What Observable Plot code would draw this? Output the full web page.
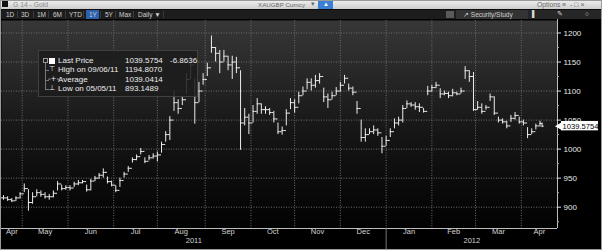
<!DOCTYPE html>
<html><head><meta charset="utf-8">
<script src="https://cdn.jsdelivr.net/npm/d3@7"></script>
<script src="https://cdn.jsdelivr.net/npm/@observablehq/plot@0.6"></script>
<style>
html,body{margin:0;padding:0;background:#000;}
#wrap{position:relative;width:602px;height:250px;overflow:hidden;background:#000;font-family:"Liberation Sans",Arial,sans-serif;}
#bar1{position:absolute;left:0;top:0;width:602px;height:9px;background:linear-gradient(#f0f0f0,#cdcdcd);}
#bar2{position:absolute;left:0;top:9px;width:602px;height:10px;background:#1d1d1d;border-top:1px solid #0c0c0c;box-sizing:border-box;}
.t{position:absolute;white-space:nowrap;line-height:1;}
#chart{position:absolute;left:0;top:19px;}
#legend{position:absolute;left:38px;top:50px;width:160px;height:47px;background:rgba(28,28,28,0.86);border:1px solid #404040;box-sizing:border-box;color:#ececec;font-size:8px;}
#border{position:absolute;left:0;top:0;width:602px;height:250px;box-sizing:border-box;border:1px solid #9a9a9a;pointer-events:none;}
</style></head><body>
<div id="wrap">
  <div id="bar1"></div>
  <div id="bar2"></div>
  <div id="chart"></div>
  <div id="legend"></div>
  <div id="border"></div>
</div>
<script>
// ---------- data ----------
const dates = ["2011-04-19","2011-04-21","2011-04-25","2011-04-27","2011-04-29","2011-05-03","2011-05-05","2011-05-09","2011-05-11","2011-05-13","2011-05-17","2011-05-19","2011-05-23","2011-05-25","2011-05-27","2011-05-31","2011-06-02","2011-06-06","2011-06-08","2011-06-10","2011-06-14","2011-06-16","2011-06-20","2011-06-22","2011-06-24","2011-06-28","2011-06-30","2011-07-04","2011-07-06","2011-07-08","2011-07-12","2011-07-14","2011-07-18","2011-07-20","2011-07-22","2011-07-26","2011-07-28","2011-08-01","2011-08-03","2011-08-05","2011-08-09","2011-08-11","2011-08-15","2011-08-17","2011-08-19","2011-08-23","2011-08-25","2011-08-29","2011-08-31","2011-09-02","2011-09-06","2011-09-08","2011-09-12","2011-09-14","2011-09-16","2011-09-20","2011-09-22","2011-09-26","2011-09-28","2011-09-30","2011-10-04","2011-10-06","2011-10-10","2011-10-12","2011-10-14","2011-10-18","2011-10-20","2011-10-24","2011-10-26","2011-10-28","2011-11-01","2011-11-03","2011-11-07","2011-11-09","2011-11-11","2011-11-15","2011-11-17","2011-11-21","2011-11-23","2011-11-25","2011-11-29","2011-12-01","2011-12-05","2011-12-07","2011-12-09","2011-12-13","2011-12-15","2011-12-19","2011-12-21","2011-12-23","2011-12-27","2011-12-29","2012-01-02","2012-01-04","2012-01-06","2012-01-10","2012-01-12","2012-01-16","2012-01-18","2012-01-20","2012-01-24","2012-01-26","2012-01-30","2012-02-01","2012-02-03","2012-02-07","2012-02-09","2012-02-13","2012-02-15","2012-02-17","2012-02-21","2012-02-23","2012-02-27","2012-02-29","2012-03-02","2012-03-06","2012-03-08","2012-03-12","2012-03-14","2012-03-16","2012-03-20","2012-03-22","2012-03-26","2012-03-28","2012-03-30","2012-04-03","2012-04-05","2012-04-09","2012-04-11","2012-04-13","2012-04-16"];
const highs = [920,918,915,918,925,940,930,925,930,928,925,922,928,944,938,937,937,943,946,946,938,948,953,958,966,952,945,937,950,960,970,985,990,1001,985,989,992,995,1012,1030,1056,1100,1085,1090,1130,1160,1120,1115,1130,1148,1194.807,1175,1170,1170,1160,1160,1158,1135,1070,1060,1075,1087,1078,1073,1070,1065,1045,1038,1068,1087,1085,1098,1107,1121,1121,1127,1130,1105,1095,1098,1106,1115,1127,1112,1107,1082,1050,1035,1035,1040,1035,1020,1022,1035,1052,1055,1075,1083,1080,1080,1078,1070,1108,1110,1115,1104,1100,1098,1103,1098,1105,1142,1135,1132,1082,1078,1075,1095,1090,1055,1052,1048,1058,1063,1055,1050,1037,1035,1043,1048,1045];
const lows = [912,910,908,910,914,925,893.1489,905,918,917,914,912,916,928,928,929,928,934,937,940,926,928,944,948,950,940,935,925,934,950,960,976,980,990,975,980,983,978,993,1012,1015,1065,1060,1075,1095,1120,1043,1080,1110,1125,1165,1150,1130,1150,1135,1120,1130,998,1040,1025,1045,1060,1060,1060,1058,1045,1025,1024,1040,1068,1062,1078,1092,1102,1100,1105,1112,1080,1070,1085,1092,1098,1112,1100,1092,1060,1012,1012,1025,1025,1022,992,1005,1020,1035,1040,1045,1070,1072,1067,1063,1062,1092,1098,1104,1087,1092,1087,1090,1092,1095,1120,1115,1065,1067,1060,1067,1082,1058,1045,1043,1035,1046,1050,1043,1040,1018,1025,1033,1038,1037];
const closes = [916,913,911,916,923,932,908,918,925,922,918,918,924,940,932,934,933,940,942,944,930,945,950,955,960,944,938,929,946,957,967,982,987,996,979,985,988,990,1008,1025,1050,1080,1070,1085,1120,1145,1080,1100,1120,1140,1175,1165,1150,1160,1145,1150,1140,1045,1055,1045,1065,1078,1068,1068,1063,1052,1030,1032,1062,1080,1072,1092,1100,1115,1110,1118,1125,1090,1085,1092,1100,1110,1122,1105,1098,1070,1020,1025,1030,1033,1028,1005,1015,1030,1045,1050,1070,1078,1076,1073,1072,1065,1100,1106,1110,1095,1096,1092,1097,1095,1100,1135,1125,1068,1072,1065,1072,1090,1062,1050,1047,1040,1053,1058,1047,1045,1025,1030,1040,1044,1039.5754];
const yTicks = [900, 950, 1000, 1050, 1100, 1150, 1200];
const yMinorTicks = [875, 925, 975, 1025, 1075, 1125, 1175];
const monthNames = ["Apr","May","Jun","Jul","Aug","Sep","Oct","Nov","Dec","Jan","Feb","Mar","Apr"];
const monthStarts = ["2011-04-01","2011-05-01","2011-06-01","2011-07-01","2011-08-01","2011-09-01","2011-10-01","2011-11-01","2011-12-01","2012-01-01","2012-02-01","2012-03-01","2012-04-01","2012-05-01"];
const yearNames = ["2011","2012"];
const yearStarts = ["2011-01-01","2012-01-01","2013-01-01"];
const lastPrice = 1039.5754;
const legendLabels = ["Last Price","High on 09/06/11","Average","Low on 05/05/11"];
const legendValues = ["1039.5754","1194.8070","1039.0414","893.1489"];
const legendChange = "-6.8636";
const periodButtons = ["1D","3D","1M","6M","YTD","1Y","5Y","Max","Daily \u25BC"];
const activePeriod = "1Y";

// ---------- trading-day index (weekdays since 2 May 2011) ----------
const origin = new Date(Date.UTC(2011, 4, 2));
const isWeekday = d => d.getUTCDay() % 6 !== 0;
function tIndex(s) {
  let d = new Date(s + "T00:00:00Z");
  while (!isWeekday(d)) d = d3.utcDay.offset(d, 1);
  if (d >= origin) return d3.utcDays(origin, d).filter(isWeekday).length;
  return -d3.utcDays(d, origin).filter(isWeekday).length;
}

const X0 = -9.95, X1 = 257.4;
const Y0 = 863.3, Y1 = 1221.5;

const bars = dates.map((d, i) => ({
  i: tIndex(d), h: highs[i], l: lows[i], c: closes[i], o: i ? closes[i - 1] : closes[i]
}));
const bounds = monthStarts.map(tIndex);
const gridX = bounds.filter(b => b > X0 && b < X1);
const months = monthNames.map((m, k) => {
  const a = Math.max(bounds[k], X0), b = Math.min(bounds[k + 1], X1);
  return {label: m, mid: (a + b) / 2};
});
const ybounds = yearStarts.map(tIndex);
const years = yearNames.map((y, k) => ({label: y, mid: (Math.max(ybounds[k], X0) + Math.min(ybounds[k + 1], X1)) / 2}));
const yearSep = ybounds.filter(b => b > X0 && b < X1);

const barColor = "#ececec";
const chart = Plot.plot({
  width: 602, height: 231,
  marginTop: 1, marginBottom: 22, marginLeft: 1, marginRight: 45,
  x: {domain: [X0, X1], axis: null},
  y: {domain: [Y0, Y1], axis: null},
  style: {background: "transparent", color: "#e6e6e6", fontFamily: "'Liberation Sans', Arial, sans-serif", fontSize: "8px"},
  marks: [
    Plot.frame({fill: "url(#bgGrad)", stroke: "none"}),
    Plot.ruleY(yTicks, {stroke: "#6c6c6c", strokeDasharray: "1,1.5"}),
    Plot.ruleX(gridX, {stroke: "#6c6c6c", strokeDasharray: "1,1.5"}),
    Plot.ruleX(bars, {x: "i", y1: "l", y2: "h", stroke: barColor, strokeWidth: 1}),
    Plot.ruleY(bars, {y: "o", x1: d => d.i - 1, x2: "i", stroke: barColor, strokeWidth: 1}),
    Plot.ruleY(bars, {y: "c", x1: "i", x2: d => d.i + 1, stroke: barColor, strokeWidth: 1}),
    // axes lines
    Plot.ruleY([Y0], {stroke: "#bdbdbd"}),
    Plot.ruleX([X1], {stroke: "#bdbdbd", insetTop: -2}),
    Plot.ruleX(yearSep, {stroke: "#777", insetTop: 208, insetBottom: -22}),
    // y ticks and labels
    Plot.ruleY(yTicks, {x1: X1, x2: X1, insetRight: -4, stroke: "#e0e0e0"}),
    Plot.ruleY(yMinorTicks, {x1: X1, x2: X1, insetRight: -2, stroke: "#aaa"}),
    Plot.text(yTicks, {y: d => d, text: d => String(d), frameAnchor: "right", dx: 6, textAnchor: "start", fill: "#e8e8e8", fontSize: 8}),
    // x labels
    Plot.text(months, {x: "mid", text: "label", frameAnchor: "bottom", dy: 5.5, fill: "#d4d4d4", fontSize: 7.5}),
    Plot.text(years, {x: "mid", text: "label", frameAnchor: "bottom", dy: 14, fill: "#d4d4d4", fontSize: 7.5}),
    // last price marker
    Plot.rect([lastPrice], {x1: X1, x2: X1, y1: d => d, y2: d => d, insetLeft: 4, insetRight: -41, insetTop: -4.7, insetBottom: -4.7, fill: "#ffffff"}),
    Plot.dot([lastPrice], {x: X1, y: d => d, symbol: "triangle", r: 3.2, rotate: -90, dx: 2.5, fill: "#ffffff", stroke: "none"}),
    Plot.text([lastPrice], {x: X1, y: d => d, text: d => d.toFixed(4), dx: 5, textAnchor: "start", fill: "#000", fontSize: 7.6})
  ]
});
const svg = d3.select(chart);
const defs = svg.insert("defs", ":first-child");
const gr = defs.append("linearGradient").attr("id", "bgGrad").attr("x1", 0).attr("y1", 0).attr("x2", 0).attr("y2", 1);
gr.append("stop").attr("offset", "0%").attr("stop-color", "#373737");
gr.append("stop").attr("offset", "55%").attr("stop-color", "#151515");
gr.append("stop").attr("offset", "100%").attr("stop-color", "#020202");
document.getElementById("chart").appendChild(chart);

// ---------- legend ----------
const lg = d3.select("#legend");
const rowTop = [5.5, 15, 24.5, 34];
lg.append("div").style("position", "absolute").style("left", "4px").style("top", "7px")
  .style("width", "3px").style("height", "3px").style("border", "1px solid #999");
lg.append("div").style("position", "absolute").style("left", "6px").style("top", "12px")
  .style("width", "0").style("height", "27px").style("border-left", "1px solid #777");
const icons = ["", "\u22A4", "-+-", "\u22A5"];
legendLabels.forEach((lab, k) => {
  if (k === 0) {
    lg.append("div").style("position", "absolute").style("left", "10px").style("top", (rowTop[k] + 1) + "px")
      .style("width", "6px").style("height", "6px").style("background", "#fff");
  } else {
    lg.append("div").style("position", "absolute").style("left", "7px").style("top", (rowTop[k] + 4) + "px")
      .style("width", "3px").style("height", "0").style("border-top", "1px solid #777");
    lg.append("span").attr("class", "t").style("left", k === 2 ? "9px" : "10px").style("top", rowTop[k] + "px")
      .style("font-family", "'DejaVu Sans', sans-serif").style("font-size", "7px").text(icons[k]);
  }
  lg.append("span").attr("class", "t").style("left", "19px").style("top", rowTop[k] + "px").text(lab);
  lg.append("span").attr("class", "t").style("left", "86px").style("top", rowTop[k] + "px").text(legendValues[k]);
});
lg.append("span").attr("class", "t").style("left", "131px").style("top", rowTop[0] + "px").text(legendChange);

// ---------- toolbars ----------
const b1 = d3.select("#bar1");
b1.append("div").style("position", "absolute").style("left", "2px").style("top", "1px").style("width", "6px").style("height", "6px").style("background", "#111");
b1.append("span").attr("class", "t").style("left", "13px").style("top", "1.5px").style("font-size", "6.8px").style("color", "#8c8c8c").text("G 14 - Gold");
b1.append("span").attr("class", "t").style("left", "258px").style("top", "1.5px").style("font-size", "6.2px").style("color", "#6a6a6a").text("XAUGBP Curncy");
b1.append("span").attr("class", "t").style("left", "311px").style("top", "0.5px").style("font-size", "6.5px").style("color", "#6a6a6a").text("\u25BE");
b1.append("div").style("position", "absolute").style("left", "318px").style("top", "0px").style("width", "15px").style("height", "9px").style("background", "#3b7fd4");
b1.append("span").attr("class", "t").style("left", "323px").style("top", "1px").style("font-size", "6px").style("color", "#fff").text("\u25B2");
b1.append("span").attr("class", "t").style("left", "537px").style("top", "1.5px").style("font-size", "6.8px").style("color", "#6a6a6a").text("Options \u2261");
b1.append("span").attr("class", "t").style("left", "570px").style("top", "1px").style("font-size", "7px").style("color", "#666").text("\u2010 \u25A1 \u00D7");

const b2 = d3.select("#bar2");
const btnX = [6, 21, 37, 53, 69, 89, 105, 119, 138];
const sepX = [17, 33, 48, 65, 83, 100, 115, 133, 163];
sepX.forEach(x => b2.append("div").style("position", "absolute").style("left", x + "px").style("top", "1px").style("width", "1px").style("height", "7px").style("background", "#3a3a3a"));
periodButtons.forEach((p, k) => {
  if (p === activePeriod) b2.append("div").style("position", "absolute").style("left", (btnX[k] - 3) + "px").style("top", "0px").style("width", "13px").style("height", "9px").style("background", "#2a62b0");
  b2.append("span").attr("class", "t").style("left", btnX[k] + "px").style("top", "1.5px").style("font-size", "6.5px").style("color", "#cfcfcf").text(p);
});
b2.append("div").style("position", "absolute").style("left", "446px").style("top", "1px").style("width", "8px").style("height", "7px").style("background", "#5a5a5a");
b2.append("div").style("position", "absolute").style("left", "456px").style("top", "0px").style("width", "72px").style("height", "9px").style("background", "#333");
b2.append("span").attr("class", "t").style("left", "463px").style("top", "1.5px").style("font-size", "6.5px").style("color", "#cfcfcf").text("\u2197 Security/Study");
b2.append("div").style("position", "absolute").style("left", "528px").style("top", "0px").style("width", "74px").style("height", "9px").style("background", "#262626");
b2.append("span").attr("class", "t").style("left", "532px").style("top", "1px").style("font-size", "6.5px").style("color", "#ddd").text("\u258C");
b2.append("span").attr("class", "t").style("left", "557px").style("top", "1px").style("font-size", "6.5px").style("color", "#ddd").text("\u270E");
b2.append("span").attr("class", "t").style("left", "585px").style("top", "1px").style("font-size", "6.5px").style("color", "#ddd").text("\u25CB");
</script>
</body></html>
